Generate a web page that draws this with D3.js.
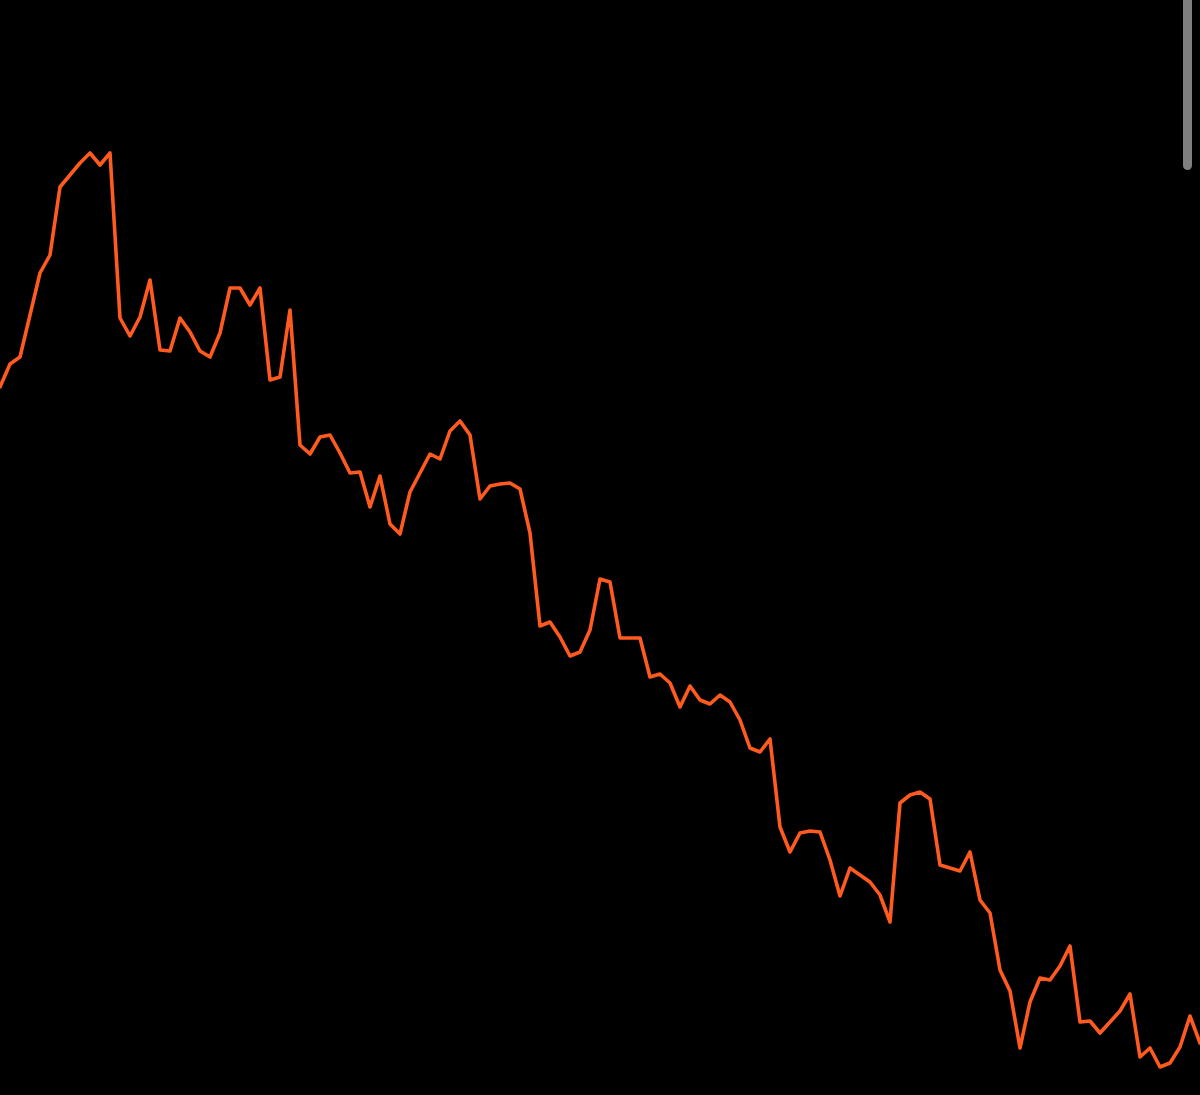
<!DOCTYPE html>
<html>
<head>
<meta charset="utf-8">
<script src="https://cdn.jsdelivr.net/npm/d3@7"></script>
<style>
html,body{margin:0;padding:0;background:#000;overflow:hidden;}
svg{display:block;}
</style>
</head>
<body>
<script>
const values = [
708,731,738,780,822,840,908,920,932,942,
930,942,777,759,778,815,745,744,777,763,
744,738,762,807,807,790,807,715,718,785,
650,641,658,660,642,622,623,588,619,571,
561,603,622,641,636,664,674,660,596,609,
611,612,606,562,469,473,458,439,443,465,
516,513,457,457,457,418,421,412,388,409,
395,391,400,393,375,347,343,356,268,243,
262,264,263,235,199,227,220,213,200,173,
292,300,303,296,230,227,224,243,195,182,
125,104,47,93,117,115,129,149,73,74,
62,73,84,101,38,47,28,32,48,79,
52];
const indices = values.map((v,i)=>i);

const W = 1200, H = 1095;
const svg = d3.select("body").append("svg").attr("width", W).attr("height", H);
svg.append("rect").attr("width", W).attr("height", H).attr("fill", "#000");

const x = d3.scaleLinear().domain([0, values.length - 1]).range([0, W]);
const y = d3.scaleLinear().domain([0, H]).range([H, 0]);

const line = d3.line().x((d,i)=>x(indices[i])).y(d=>y(d));
svg.append("path")
  .datum(values)
  .attr("d", line)
  .attr("fill", "none")
  .attr("stroke", "#FF5A1F")
  .attr("stroke-width", 3.6)
  .attr("stroke-linejoin", "round")
  .attr("stroke-linecap", "round");

// scrollbar indicator
svg.append("rect")
  .attr("x", 1183).attr("y", -10)
  .attr("width", 9).attr("height", 180)
  .attr("rx", 4.5)
  .attr("fill", "#7f7f7f");
</script>
</body>
</html>
